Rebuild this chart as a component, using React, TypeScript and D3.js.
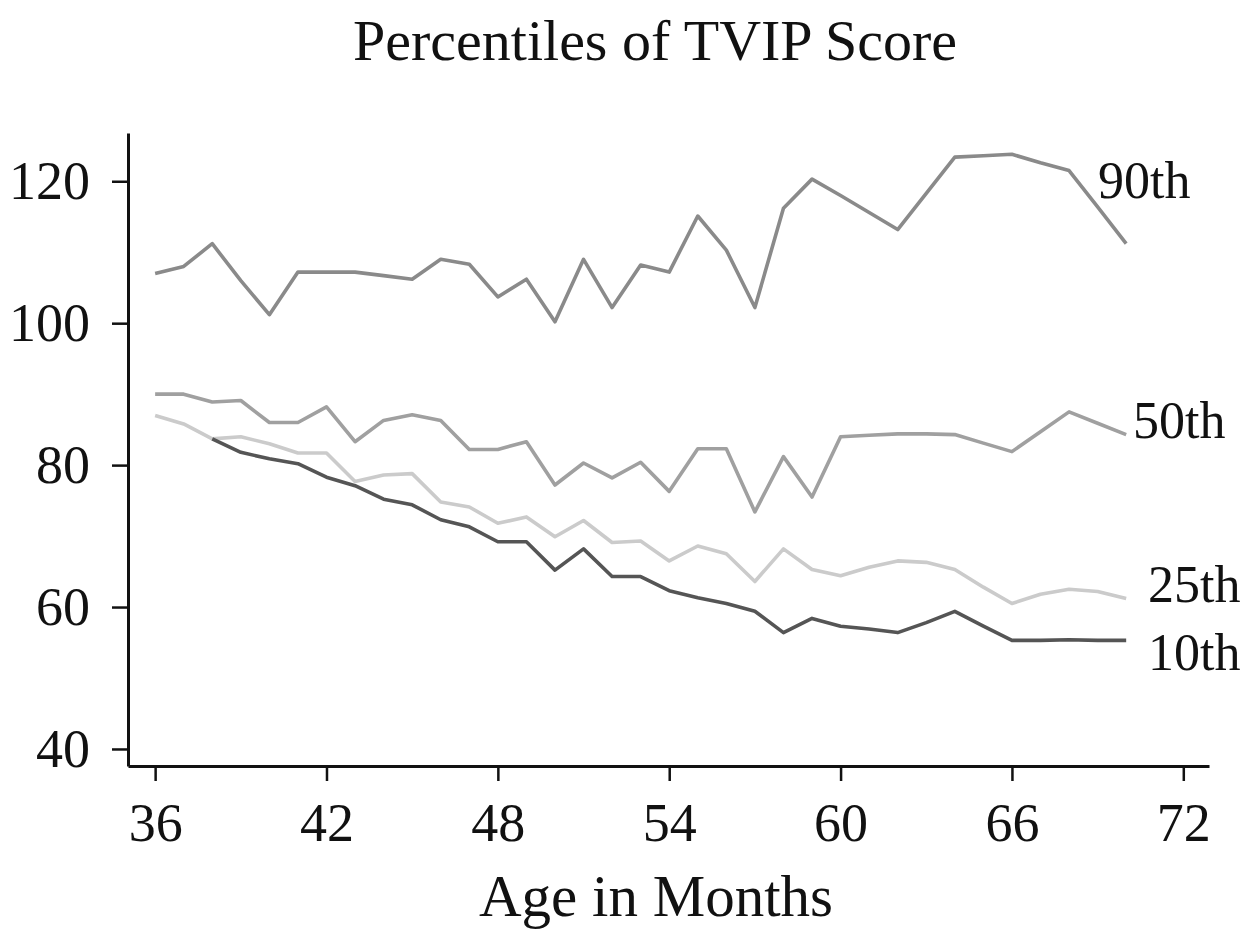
import React, { useEffect, useRef } from "react";
import * as d3 from "d3";

const months: number[] = d3.range(36, 71);
const tenthMonths: number[] = d3.range(38, 71);

const p90: number[] = [
    107, 108, 111.2, 106, 101.2, 107.2, 107.2, 107.2, 106.7, 106.2, 109, 108.3,
    103.7, 106.2, 100.2, 109, 102.2, 108.2, 107.2, 115.1, 110.3, 102.2, 116.2,
    120.3, 118, 115.6, 113.2, 118.3, 123.4, 123.6, 123.8, 122.6, 121.5, 116.4, 111.2,
];

const p50: number[] = [
    90, 90, 88.9, 89.1, 86, 86, 88.2, 83.3, 86.3, 87.1, 86.3, 82.2, 82.2, 83.3,
    77.2, 80.3, 78.2, 80.4, 76.3, 82.3, 82.3, 73.4, 81.2, 75.5, 84, 84.2, 84.4,
    84.4, 84.3, 83.1, 81.9, 84.7, 87.5, 85.9, 84.3,
];

const p25: number[] = [
    87, 85.8, 83.7, 84, 83, 81.7, 81.7, 77.7, 78.6, 78.8, 74.8, 74.1, 71.8, 72.7,
    69.9, 72.2, 69.1, 69.3, 66.5, 68.6, 67.5, 63.6, 68.2, 65.3, 64.4, 65.6, 66.5,
    66.3, 65.3, 62.8, 60.5, 61.8, 62.5, 62.2, 61.2,
];

const p10: number[] = [
    83.7, 81.8, 80.9, 80.2, 78.3, 77.1, 75.2, 74.4, 72.3, 71.3, 69.2, 69.2, 65.2,
    68.2, 64.3, 64.3, 62.3, 61.3, 60.5, 59.4, 56.4, 58.4, 57.3, 56.9, 56.4, 57.8,
    59.4, 57.3, 55.3, 55.3, 55.4, 55.3, 55.3,
];

const xTicks: number[] = [36, 42, 48, 54, 60, 66, 72];
const yTicks: number[] = [40, 60, 80, 100, 120];

const TVIPChart: React.FC = () => {
    const svgRef = useRef<SVGSVGElement | null>(null);

    useEffect(() => {
        if (!svgRef.current) return;

        const svg = d3.select(svgRef.current);
        const width = 1247;
        const height = 932;
        const font = "'Liberation Serif', 'Times New Roman', serif";

        svg.selectAll("*").remove();
        svg.attr("width", width).attr("height", height);

        const x = d3.scaleLinear().domain([35.05, 72.9]).range([128, 1209]);
        const y = d3.scaleLinear().domain([37.6, 126.8]).range([766, 133]);

        const series = [
            { name: "90th", months: months, values: p90, color: "#8a8a8a", labelX: 1098, labelY: 198 },
            { name: "50th", months: months, values: p50, color: "#a0a0a0", labelX: 1133, labelY: 438 },
            { name: "25th", months: months, values: p25, color: "#cbcbcb", labelX: 1148, labelY: 602 },
            { name: "10th", months: tenthMonths, values: p10, color: "#555555", labelX: 1148, labelY: 670 },
        ];

        // title
        svg
            .append("text")
            .attr("x", 655)
            .attr("y", 60)
            .attr("text-anchor", "middle")
            .style("font-family", font)
            .attr("font-size", "58px")
            .attr("fill", "#111")
            .text("Percentiles of TVIP Score");

        // x axis
        const xAxis = svg
            .append("g")
            .attr("transform", `translate(0,766)`)
            .call(d3.axisBottom(x).tickValues(xTicks).tickSize(15).tickSizeOuter(0).tickPadding(22));
        xAxis.select(".domain").attr("stroke", "#111").attr("stroke-width", 3);
        xAxis.selectAll(".tick line").attr("stroke", "#111").attr("stroke-width", 2.5);
        xAxis
            .selectAll("text")
            .style("font-family", font)
            .attr("font-size", "54px")
            .attr("fill", "#111");

        // y axis
        const yAxis = svg
            .append("g")
            .attr("transform", `translate(128,0)`)
            .call(d3.axisLeft(y).tickValues(yTicks).tickSize(16).tickSizeOuter(0).tickPadding(22));
        yAxis.select(".domain").attr("stroke", "#111").attr("stroke-width", 3);
        yAxis.selectAll(".tick line").attr("stroke", "#111").attr("stroke-width", 2.5);
        yAxis
            .selectAll("text")
            .style("font-family", font)
            .attr("font-size", "54px")
            .attr("fill", "#111");

        // x label
        svg
            .append("text")
            .attr("x", 656)
            .attr("y", 916)
            .attr("text-anchor", "middle")
            .style("font-family", font)
            .attr("font-size", "59px")
            .attr("fill", "#111")
            .text("Age in Months");

        const line = d3
            .line<[number, number]>()
            .x((d) => x(d[0]))
            .y((d) => y(d[1]));

        series.forEach((s) => {
            const pts: [number, number][] = s.months.map((m, i) => [m, s.values[i]]);
            svg
                .append("path")
                .datum(pts)
                .attr("d", line)
                .attr("fill", "none")
                .attr("stroke", s.color)
                .attr("stroke-width", 3.6)
                .attr("stroke-linejoin", "round");

            svg
                .append("text")
                .attr("x", s.labelX)
                .attr("y", s.labelY)
                .style("font-family", font)
                .attr("font-size", "52px")
                .attr("fill", "#111")
                .text(s.name);
        });
    }, []);

    return (
        <svg
            ref={svgRef}
            style={{ position: "absolute", left: 0, top: 0, background: "#fff" }}
        ></svg>
    );
};

export default TVIPChart;
